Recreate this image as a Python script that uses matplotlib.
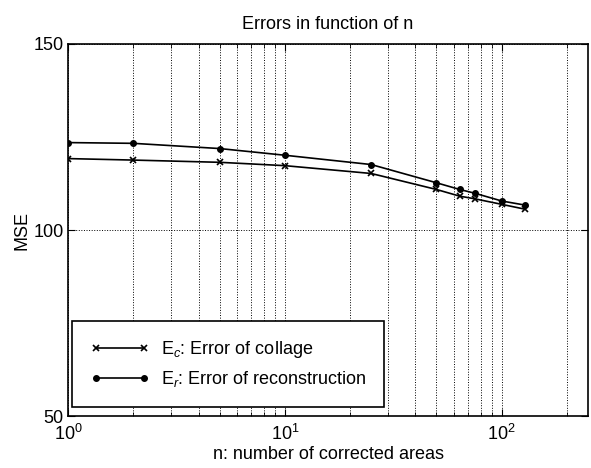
import matplotlib
matplotlib.use("Agg")
import matplotlib.pyplot as plt
from matplotlib.ticker import LogLocator, NullFormatter

plt.rcParams['font.family'] = ['Liberation Sans', 'DejaVu Sans']
plt.rcParams['mathtext.fontset'] = 'custom'
plt.rcParams['mathtext.rm'] = 'Liberation Sans'
plt.rcParams['mathtext.it'] = 'Liberation Sans:italic'
plt.rcParams['mathtext.bf'] = 'Liberation Sans:bold'

n_values = [1, 2, 5, 10, 25, 50, 64, 75, 100, 128]
err_collage = [119.2, 118.8, 118.2, 117.3, 115.2, 110.9, 109.1, 108.4, 106.9, 105.6]
err_reconstruction = [123.5, 123.3, 121.9, 120.1, 117.6, 112.7, 110.9, 109.9, 107.8, 106.7]
labels = [r'$\mathrm{E}_c$: Error of collage', r'$\mathrm{E}_r$: Error of reconstruction']
title = 'Errors in function of n'
xlabel = 'n: number of corrected areas'
ylabel = 'MSE'
yticks = [50, 100, 150]

fig = plt.figure(figsize=(5.91, 4.68), dpi=100)
ax = fig.add_axes([0.115, 0.111, 0.88, 0.795])

ax.plot(n_values, err_collage, color='black', lw=1.2, marker='x', ms=4, mew=1.2, label=labels[0])
ax.plot(n_values, err_reconstruction, color='black', lw=1.2, marker='o', ms=4, label=labels[1])

ax.set_xscale('log')
ax.set_xlim(1, 250)
ax.set_ylim(50, 150)
ax.set_yticks(yticks)
ax.xaxis.set_major_locator(LogLocator(base=10, numticks=10))
ax.xaxis.set_minor_locator(LogLocator(base=10, subs=range(2, 10), numticks=20))
ax.xaxis.set_minor_formatter(NullFormatter())

ax.grid(True, which='major', axis='both', linestyle=':', color='black', lw=0.7)
ax.grid(True, which='minor', axis='x', linestyle=':', color='black', lw=0.7)

ax.tick_params(which='both', direction='in', top=True, right=True, labelsize=13, colors='black')
ax.tick_params(which='major', length=5)
ax.tick_params(which='minor', length=3)
ax.tick_params(axis='x', which='major', pad=6)
ax.tick_params(axis='y', which='major', pad=3)
for s in ax.spines.values():
    s.set_linewidth(1.2)
    s.set_color('black')

ax.set_title(title, fontsize=13, pad=11)
ax.set_xlabel(xlabel, fontsize=13, labelpad=1)
ax.set_ylabel(ylabel, fontsize=13, labelpad=2)

leg = ax.legend(loc='lower left', bbox_to_anchor=(0.008, 0.024), borderaxespad=0,
                fontsize=13, handlelength=3.3, handletextpad=0.6, numpoints=2, fancybox=False,
                framealpha=1, edgecolor='black', borderpad=1.0, labelspacing=0.5)
leg.get_frame().set_linewidth(1.2)

fig.savefig('out.png', dpi=100)
